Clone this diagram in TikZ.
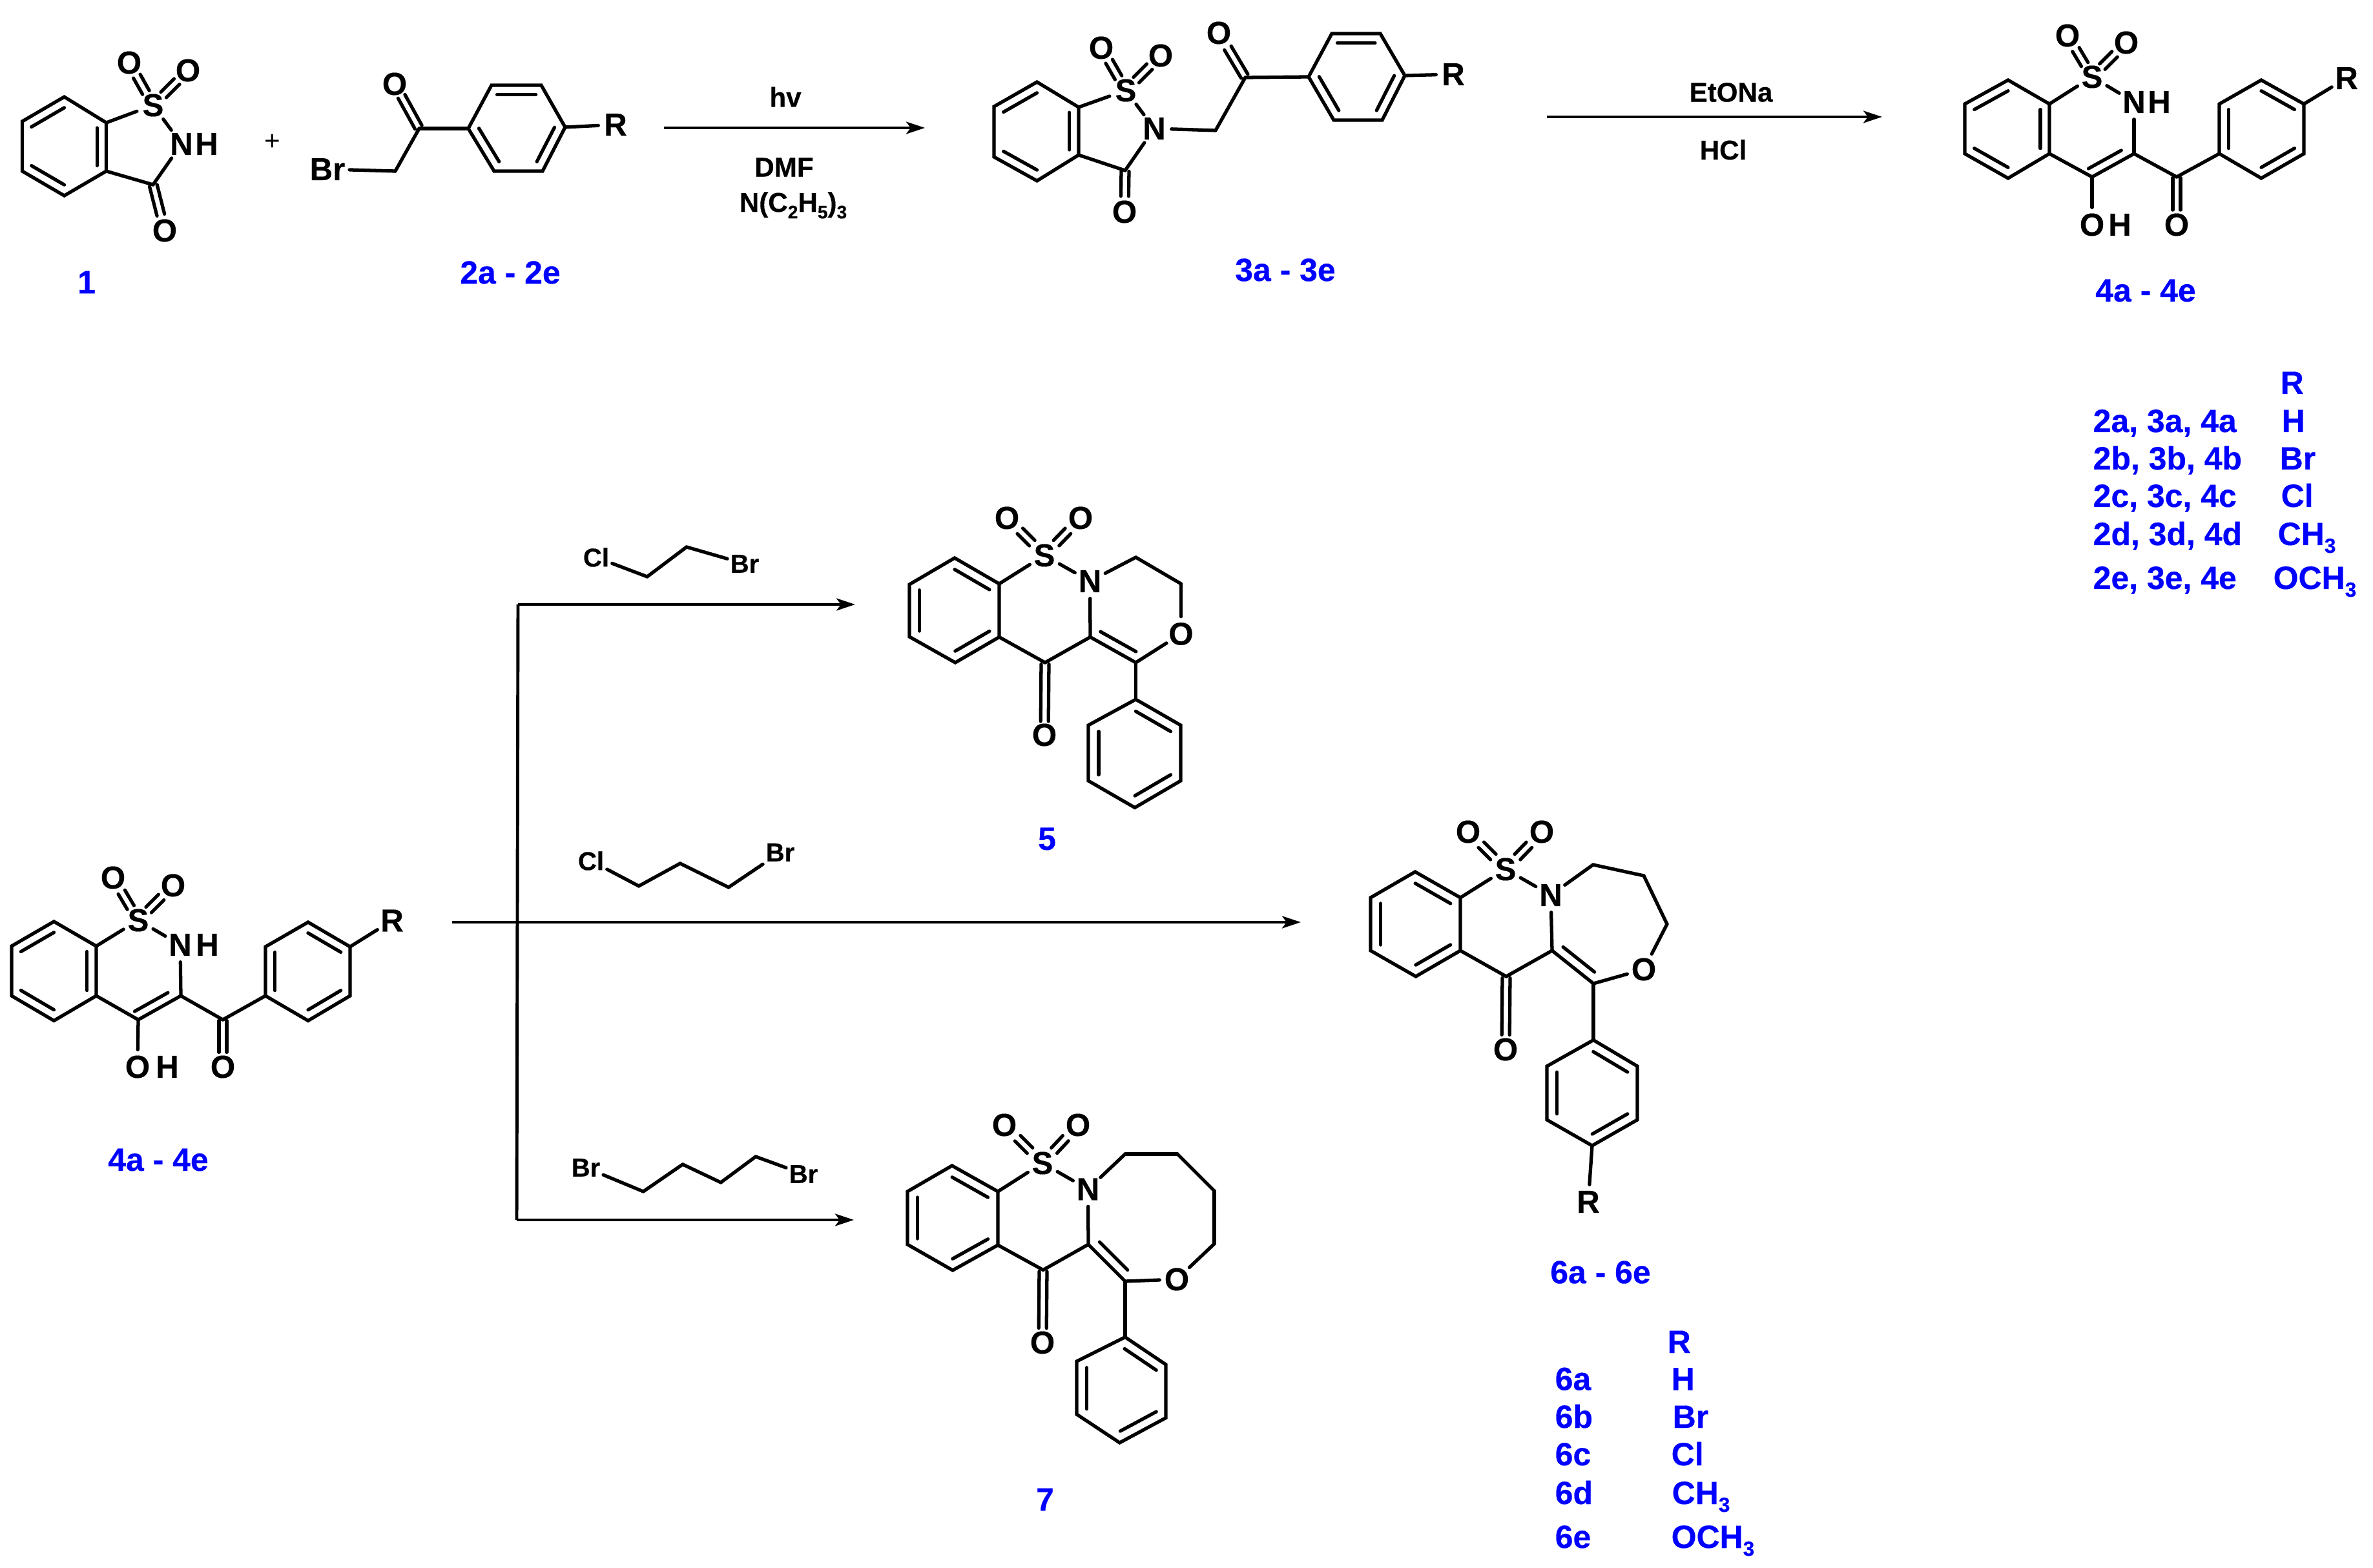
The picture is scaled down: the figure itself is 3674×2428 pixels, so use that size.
\documentclass[tikz,border=0pt]{standalone}
\usepackage{fontspec}
\setmainfont{Liberation Sans}[BoldFeatures={FakeBold=0.35}]
\usetikzlibrary{calc,arrows.meta}
\definecolor{labelblue}{RGB}{0,0,255}
\newcommand{\hex}[2]{%
  \foreach \n/\xx/\yy in {#2} {\coordinate (#1\n) at (\xx,\yy);}
  \coordinate (#1c) at ($(#11)!.5!(#14)$);
  \draw[bond] (#11)--(#12)--(#13)--(#14)--(#15)--(#16)--cycle;}
\newcommand{\binn}[3]{\draw[bond] ($(#1#2)!.22!(#1c)$) -- ($(#1#3)!.22!(#1c)$);}
\newcommand{\bpara}[5]{\draw[bond] ($(#1)!#3!(#2)!#5!90:(#2)$) -- ($(#1)!#4!(#2)!#5!90:(#2)$);}
\newcommand{\bdbl}[4]{\bpara{#1}{#2}{#3}{#4}{0.06cm}\bpara{#1}{#2}{#3}{#4}{-0.06cm}}
\newcommand{\sbs}[2]{\raisebox{-0.24em}{\fontsize{#1}{#1}\selectfont #2}}
\tikzset{
  bond/.style={line width=1.5pt,line cap=round,line join=miter,black},
  atom/.style={circle,inner sep=0pt,minimum size=0.52cm,text=black,font=\fontsize{14}{16}\selectfont\bfseries},
  halo/.style={rectangle,inner sep=0.06cm,text=black,font=\fontsize{14}{16}\selectfont\bfseries},
  reag/.style={rectangle,inner sep=0.04cm,text=black,font=\fontsize{11.4}{14}\selectfont\bfseries},
  cond/.style={inner sep=0pt,text=black,font=\fontsize{12}{14}\selectfont\bfseries},
  lbl/.style={inner sep=0pt,text=labelblue,font=\fontsize{14.2}{16}\selectfont\bfseries},
  tbl/.style={lbl,anchor=base west},
  rxn/.style={line width=1.15pt,black,-{Stealth[length=0.29cm,width=0.19cm,inset=0.07cm]}},
  rail/.style={line width=1.4pt,black},
}
\begin{document}
\begin{tikzpicture}[x=0.01cm,y=-0.01cm]
\useasboundingbox (0,0) rectangle (3674,2428);

% ---------- compound 1
\hex{a}{1/99.5/150,2/164.5/190,3/164.5/265,4/99.5/303,5/34.4/265,6/34.4/188}
\binn{a}{2}{3}\binn{a}{6}{1}\binn{a}{4}{5}
\node[atom] (aS) at (237,163) {S};
\node[atom] (aN) at (281,223) {N};
\node[atom] (aH) at (320,223) {H};
\coordinate (aC) at (237,286);
\node[atom] (aO1) at (200,97) {O};
\node[atom] (aO2) at (291,109) {O};
\node[atom] (aO3) at (255,357) {O};
\draw[bond] (a2)--(aS);\draw[bond] (aS)--(aN);\draw[bond] (aN)--(aC);\draw[bond] (aC)--(a3);
\bdbl{aS}{aO1}{.3}{.68}\bdbl{aS}{aO2}{.3}{.68}\bdbl{aC}{aO3}{.02}{.66}
\node[inner sep=0pt,font=\fontsize{12}{14}\selectfont] (plus) at (422,220) {+};

% ---------- compound 2
\hex{b}{1/725/199,2/761/132,3/838/132,4/875/197,5/840/265,6/765/265}
\binn{b}{2}{3}\binn{b}{4}{5}\binn{b}{6}{1}
\coordinate (bC) at (649,199);
\coordinate (bM) at (612,265);
\node[atom] (bO) at (611,130) {O};
\node[halo] (bBr) at (507,262) {Br};
\node[atom] (bR) at (953,193) {R};
\draw[bond] (bBr)--(bM);\draw[bond] (bM)--(bC);\draw[bond] (bC)--(b1);\draw[bond] (b4)--(bR);
\bdbl{bC}{bO}{.03}{.72}

% ---------- compound 3
\hex{c}{1/1605.5/127,2/1670/166,3/1670/240,4/1605.5/280,5/1539/243,6/1539/165}
\binn{c}{2}{3}\binn{c}{6}{1}\binn{c}{4}{5}
\node[atom] (cS) at (1743,140) {S};
\node[atom] (cN) at (1787,199) {N};
\coordinate (cK) at (1742,264);
\node[atom] (cO1) at (1705,74) {O};
\node[atom] (cO2) at (1797,86) {O};
\node[atom] (cO3) at (1741,328) {O};
\draw[bond] (c2)--(cS);\draw[bond] (cS)--(cN);\draw[bond] (cN)--(cK);\draw[bond] (cK)--(c3);
\bdbl{cS}{cO1}{.3}{.68}\bdbl{cS}{cO2}{.3}{.68}\bdbl{cK}{cO3}{.02}{.62}
\hex{d}{1/2026/119,2/2062/52,3/2137/52,4/2175/117,5/2140/186,6/2065/186}
\binn{d}{2}{3}\binn{d}{4}{5}\binn{d}{6}{1}
\coordinate (dC) at (1928,120);
\coordinate (dM) at (1882,202);
\node[atom] (dO) at (1887,51) {O};
\node[atom] (dR) at (2250,115) {R};
\draw[bond] (cN)--(dM);\draw[bond] (dM)--(dC);\draw[bond] (dC)--(d1);\draw[bond] (d4)--(dR);
\bdbl{dC}{dO}{.03}{.66}

% ---------- compound 4 (top)
\hex{e}{1/3109/124,2/3173/161,3/3173/238,4/3109/276,5/3042/238,6/3042/161}
\binn{e}{2}{3}\binn{e}{6}{1}\binn{e}{4}{5}
\node[atom] (eS) at (3239,119) {S};
\node[atom] (eN) at (3304,158) {N};
\node[atom] (eH) at (3343,158) {H};
\coordinate (eC3) at (3304,238);
\coordinate (eC4) at (3239,274);
\coordinate (eK) at (3370,274);
\node[atom] (eOa) at (3201,55) {O};
\node[atom] (eOb) at (3292,66) {O};
\node[atom] (eOH) at (3239,348) {O};
\node[atom] (eHH) at (3282,348) {H};
\node[atom] (eOk) at (3370,348) {O};
\draw[bond] (e2)--(eS);\draw[bond] (eS)--(eN);\draw[bond] (eN)--(eC3);
\draw[bond] (eC3)--(eC4);\draw[bond] (eC4)--(e3);\draw[bond] (eC4)--(eOH);
\bpara{eC4}{eC3}{.02}{.8}{0.14cm}
\bdbl{eS}{eOa}{.3}{.66}\bdbl{eS}{eOb}{.3}{.66}\bdbl{eK}{eOk}{.02}{.69}
\hex{f}{1/3501/124,2/3567/161,3/3567/238,4/3501/276,5/3436/238,6/3436/161}
\binn{f}{1}{2}\binn{f}{3}{4}\binn{f}{5}{6}
\node[atom] (fR) at (3633,121) {R};
\draw[bond] (eC3)--(eK);\draw[bond] (eK)--(f5);\draw[bond] (f2)--(fR);

% ---------- compound 4 (lower left)
\hex{g}{1/83.5/1427,2/149/1465,3/149/1542,4/83.5/1580.5,5/18/1542,6/18/1465}
\binn{g}{2}{3}\binn{g}{6}{1}\binn{g}{4}{5}
\node[atom] (gS) at (214,1425) {S};
\node[atom] (gN) at (279,1463) {N};
\node[atom] (gH) at (321,1463) {H};
\coordinate (gC3) at (280,1542);
\coordinate (gC4) at (214,1579);
\coordinate (gK) at (345,1579);
\node[atom] (gOa) at (175,1359) {O};
\node[atom] (gOb) at (268,1371) {O};
\node[atom] (gOH) at (213,1652) {O};
\node[atom] (gHH) at (259,1652) {H};
\node[atom] (gOk) at (345,1652) {O};
\draw[bond] (g2)--(gS);\draw[bond] (gS)--(gN);\draw[bond] (gN)--(gC3);
\draw[bond] (gC3)--(gC4);\draw[bond] (gC4)--(g3);\draw[bond] (gC4)--(gOH);
\bpara{gC4}{gC3}{.02}{.8}{0.14cm}
\bdbl{gS}{gOa}{.3}{.66}\bdbl{gS}{gOb}{.3}{.66}\bdbl{gK}{gOk}{.02}{.69}
\hex{h}{1/477/1428,2/542/1466,3/542/1542,4/477/1580.5,5/411/1542,6/411/1466}
\binn{h}{1}{2}\binn{h}{3}{4}\binn{h}{5}{6}
\node[atom] (hR) at (607,1425.5) {R};
\draw[bond] (gC3)--(gK);\draw[bond] (gK)--(h5);\draw[bond] (h2)--(hR);

% ---------- compound 5
\hex{i}{1/1478/864,2/1547/904,3/1547/986.5,4/1479/1026,5/1408/986,6/1408/905}
\binn{i}{1}{2}\binn{i}{3}{4}\binn{i}{5}{6}
\node[atom] (iS) at (1617,860) {S};
\node[atom] (iN) at (1687.5,900) {N};
\coordinate (iC3) at (1688,986.5);
\coordinate (iK) at (1618,1026);
\coordinate (iC) at (1758.5,1026);
\coordinate (iM1) at (1758.5,863);
\coordinate (iM2) at (1828.5,904);
\node[atom] (iOr) at (1828.5,981.5) {O};
\node[atom] (iOa) at (1559,802) {O};
\node[atom] (iOb) at (1673,802) {O};
\node[atom] (iOk) at (1617,1138) {O};
\draw[bond] (i2)--(iS);\draw[bond] (iS)--(iN);\draw[bond] (iN)--(iC3);
\draw[bond] (iC3)--(iK);\draw[bond] (iK)--(i3);
\draw[bond] (iN)--(iM1);\draw[bond] (iM1)--(iM2);\draw[bond] (iM2)--(iOr);
\draw[bond] (iOr)--(iC);\draw[bond] (iC)--(iC3);
\bpara{iC3}{iC}{.12}{.9}{0.15cm}
\bdbl{iS}{iOa}{.33}{.65}\bdbl{iS}{iOb}{.33}{.65}\bdbl{iK}{iOk}{.02}{.81}
\hex{j}{1/1758.5/1083,2/1828/1123,3/1828/1209,4/1757/1250.6,5/1685/1209,6/1685/1123}
\binn{j}{1}{2}\binn{j}{3}{4}\binn{j}{5}{6}
\draw[bond] (iC)--(j1);

% ---------- compound 6
\hex{k}{1/2191/1350,2/2261/1390,3/2261/1472,4/2192/1512,5/2122/1472,6/2122/1390}
\binn{k}{1}{2}\binn{k}{3}{4}\binn{k}{5}{6}
\node[atom] (kS) at (2331,1346) {S};
\node[atom] (kN) at (2401,1386) {N};
\coordinate (kC3) at (2403,1472);
\coordinate (kK) at (2332,1512);
\coordinate (kC) at (2467,1523);
\coordinate (kM1) at (2466.5,1339);
\coordinate (kM2) at (2545,1356);
\coordinate (kM3) at (2581,1431);
\node[atom] (kOr) at (2545,1501) {O};
\node[atom] (kOa) at (2273,1288) {O};
\node[atom] (kOb) at (2387,1288) {O};
\node[atom] (kOk) at (2331,1625) {O};
\draw[bond] (k2)--(kS);\draw[bond] (kS)--(kN);\draw[bond] (kN)--(kC3);
\draw[bond] (kC3)--(kK);\draw[bond] (kK)--(k3);
\draw[bond] (kN)--(kM1);\draw[bond] (kM1)--(kM2);\draw[bond] (kM2)--(kM3);\draw[bond] (kM3)--(kOr);
\draw[bond] (kOr)--(kC);\draw[bond] (kC)--(kC3);
\bpara{kC3}{kC}{.12}{.88}{0.15cm}
\bdbl{kS}{kOa}{.33}{.65}\bdbl{kS}{kOb}{.33}{.65}\bdbl{kK}{kOk}{.02}{.8}
\hex{l}{1/2467/1610.5,2/2535/1651,3/2535/1734,4/2465/1774,5/2395/1734,6/2395/1651}
\binn{l}{1}{2}\binn{l}{3}{4}\binn{l}{5}{6}
\node[atom] (lR) at (2459,1861) {R};
\draw[bond] (kC)--(l1);\draw[bond] (l4)--(lR);

% ---------- compound 7
\hex{m}{1/1474/1805,2/1545/1845,3/1545/1928,4/1475/1967,5/1405/1927,6/1405/1845}
\binn{m}{1}{2}\binn{m}{3}{4}\binn{m}{5}{6}
\node[atom] (mS) at (1614,1801) {S};
\node[atom] (mN) at (1684.5,1841.5) {N};
\coordinate (mC3) at (1685,1927);
\coordinate (mK) at (1615,1966.5);
\coordinate (mC) at (1742,1984);
\coordinate (mM1) at (1742,1787);
\coordinate (mM2) at (1823,1787);
\coordinate (mM3) at (1880,1844);
\coordinate (mM4) at (1880,1926);
\node[atom] (mOr) at (1822,1981) {O};
\node[atom] (mOa) at (1555,1742) {O};
\node[atom] (mOb) at (1669,1742) {O};
\node[atom] (mOk) at (1614,2079) {O};
\draw[bond] (m2)--(mS);\draw[bond] (mS)--(mN);\draw[bond] (mN)--(mC3);
\draw[bond] (mC3)--(mK);\draw[bond] (mK)--(m3);
\draw[bond] (mN)--(mM1);\draw[bond] (mM1)--(mM2);\draw[bond] (mM2)--(mM3);\draw[bond] (mM3)--(mM4);\draw[bond] (mM4)--(mOr);
\draw[bond] (mOr)--(mC);\draw[bond] (mC)--(mC3);
\bpara{mC3}{mC}{.12}{.88}{0.15cm}
\bdbl{mS}{mOa}{.33}{.65}\bdbl{mS}{mOb}{.33}{.65}\bdbl{mK}{mOk}{.02}{.8}
\hex{n}{1/1742/2070.5,2/1805/2113,3/1805/2195.5,4/1733.5/2234,5/1667/2190,6/1667/2108}
\binn{n}{1}{2}\binn{n}{3}{4}\binn{n}{5}{6}
\draw[bond] (mC)--(n1);

% ---------- reagents above the branched arrows
\node[reag] (r1Cl) at (923,863) {Cl};
\coordinate (r1a) at (1002,893);
\coordinate (r1b) at (1063,847);
\node[reag] (r1Br) at (1153,873) {Br};
\draw[bond] (r1Cl)--(r1a);\draw[bond] (r1a)--(r1b);\draw[bond] (r1b)--(r1Br);

\node[reag] (r2Cl) at (915,1333) {Cl};
\coordinate (r2a) at (989,1372);
\coordinate (r2b) at (1053,1337);
\coordinate (r2c) at (1128,1374);
\node[reag] (r2Br) at (1208,1320) {Br};
\draw[bond] (r2Cl)--(r2a);\draw[bond] (r2a)--(r2b);\draw[bond] (r2b)--(r2c);\draw[bond] (r2c)--(r2Br);

\node[reag] (r3Bl) at (907,1808) {Br};
\coordinate (r3a) at (996,1845);
\coordinate (r3b) at (1057,1803);
\coordinate (r3c) at (1116,1831);
\coordinate (r3d) at (1170,1791);
\node[reag] (r3Br) at (1244,1818) {Br};
\draw[bond] (r3Bl)--(r3a);\draw[bond] (r3a)--(r3b);\draw[bond] (r3b)--(r3c);\draw[bond] (r3c)--(r3d);\draw[bond] (r3d)--(r3Br);

% ---------- reaction arrows
\coordinate (s1) at (1028,198);\coordinate (e1) at (1432,198);
\draw[rxn] (s1)--(e1);
\coordinate (s2) at (2395,181);\coordinate (e2) at (2914,181);
\draw[rxn] (s2)--(e2);
\coordinate (railtop) at (802,936);\coordinate (railbot) at (800,1889);
\coordinate (e3) at (1324,936);\coordinate (e4) at (1322,1889);
\coordinate (s5) at (700,1428);\coordinate (e5) at (2014,1428);
\draw[rail] (railtop)--(railbot);
\draw[rxn] (railtop)--(e3);
\draw[rxn] (railbot)--(e4);
\draw[rxn] (s5)--(e5);

% ---------- conditions
\node[cond] (c1) at (1216,150) {hv};
\node[cond] (c2) at (1214,259) {DMF};
\node[cond] (c3) at (1228,318) {N(C\sbs{8}{2}H\sbs{8}{5})\sbs{8}{3}};
\node[cond] (c4) at (2680,143) {EtONa};
\node[cond] (c5) at (2668,232) {HCl};

% ---------- compound labels
\node[lbl] (t1) at (134,437) {1};
\node[lbl] (t2) at (790,422) {2a - 2e};
\node[lbl] (t3) at (1990,418) {3a - 3e};
\node[lbl] (t4) at (3322,450) {4a - 4e};
\node[lbl] (t4b) at (245,1796) {4a - 4e};
\node[lbl] (t5) at (1621,1299) {5};
\node[lbl] (t6) at (2478,1970) {6a - 6e};
\node[lbl] (t7) at (1618,2322) {7};

% ---------- table 2-4
\node[tbl] (q0) at (3530,610) {R};
\node[tbl] (q1) at (3240,669) {2a, 3a, 4a};
\node[tbl] (q2) at (3240,727) {2b, 3b, 4b};
\node[tbl] (q3) at (3240,785) {2c, 3c, 4c};
\node[tbl] (q4) at (3240,844) {2d, 3d, 4d};
\node[tbl] (q5) at (3240,912) {2e, 3e, 4e};
\node[tbl] (p1) at (3532,669) {H};
\node[tbl] (p2) at (3529,727) {Br};
\node[tbl] (p3) at (3531,785) {Cl};
\node[tbl] (p4) at (3526,844) {CH\sbs{9}{3}};
\node[tbl] (p5) at (3519,912) {OCH\sbs{9}{3}};

% ---------- table 6
\node[tbl] (u0) at (2581,2095) {R};
\node[tbl] (u1) at (2407,2152.5) {6a};
\node[tbl] (u2) at (2407,2211) {6b};
\node[tbl] (u3) at (2407,2269) {6c};
\node[tbl] (u4) at (2407,2329) {6d};
\node[tbl] (u5) at (2407,2397) {6e};
\node[tbl] (v1) at (2587,2152.5) {H};
\node[tbl] (v2) at (2589,2211) {Br};
\node[tbl] (v3) at (2587,2269) {Cl};
\node[tbl] (v4) at (2588,2329) {CH\sbs{9}{3}};
\node[tbl] (v5) at (2587,2397) {OCH\sbs{9}{3}};
\end{tikzpicture}
\end{document}
